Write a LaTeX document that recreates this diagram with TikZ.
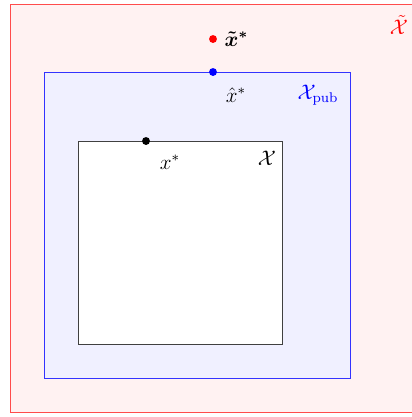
\documentclass[tikz,border=0pt]{standalone}
\usepackage{bm}
\usetikzlibrary{positioning}

\begin{document}
\begin{tikzpicture}[
    x=0.02cm, y=-0.02cm,
    dot/.style={circle, fill, inner sep=0pt, minimum size=4.5pt},
    lbl/.style={inner sep=1pt, font=\large},
    box/.style={line width=0.5pt},
]
\useasboundingbox (0,0) rectangle (412,417);
% nested sets
\draw[box, red!70, fill=red!5] (10,4) rectangle (430,412);
\draw[box, blue!80, fill=blue!6] (44,72) rectangle (350,378);
\draw[box, black!75, fill=white] (78,141) rectangle (282,344);
% points
\node[dot, red] (xt) at (213,39) {};
\node[dot, blue] (xh) at (213,72) {};
\node[dot, black] (xs) at (146,141) {};
\node[lbl, right=3pt of xt] (xtl) {$\bm{\tilde{x}^*}$};
\node[lbl] (xhl) at (236,95) {$\hat{x}^*$};
\node[lbl] (xsl) at (170,162) {$x^*$};
% set labels
\node[lbl, red] (Xt) at (399,25) {$\tilde{\mathcal{X}}$};
\node[lbl, blue] (Xp) at (318,95) {$\mathcal{X}_{\mathrm{pub}}$};
\node[lbl] (X) at (267,158) {$\mathcal{X}$};
\end{tikzpicture}
\end{document}
